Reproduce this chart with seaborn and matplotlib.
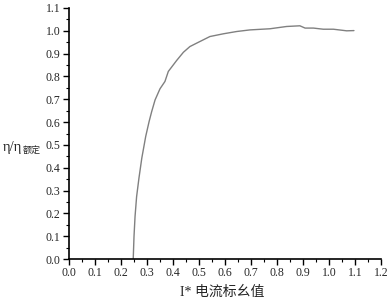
import matplotlib
matplotlib.use('Agg')
import matplotlib.pyplot as plt
from matplotlib.ticker import MultipleLocator
import seaborn as sns
import pandas as pd

# Curva de eficiencia relativa frente a corriente en p.u.
i_pu = [0.247, 0.250, 0.254, 0.260, 0.269, 0.280, 0.295, 0.308, 0.318, 0.331,
        0.350, 0.369, 0.382, 0.414, 0.440, 0.465, 0.491, 0.542, 0.594, 0.645,
        0.696, 0.773, 0.837, 0.888, 0.908, 0.940, 0.978, 1.017, 1.068, 1.096]
eta_rel = [0.0, 0.098, 0.186, 0.273, 0.354, 0.442, 0.537, 0.602, 0.646, 0.697,
           0.746, 0.778, 0.822, 0.870, 0.906, 0.931, 0.946, 0.975, 0.987, 0.997,
           1.004, 1.009, 1.019, 1.022, 1.012, 1.012, 1.007, 1.007, 1.000, 1.001]

xticks = [0.0, 0.1, 0.2, 0.3, 0.4, 0.5, 0.6, 0.7, 0.8, 0.9, 1.0, 1.1, 1.2]
yticks = [0.0, 0.1, 0.2, 0.3, 0.4, 0.5, 0.6, 0.7, 0.8, 0.9, 1.0, 1.1]

df = pd.DataFrame({"I": i_pu, "eta": eta_rel})

sns.set_style("ticks")
plt.rcParams['font.family'] = ['Liberation Serif', 'Noto Sans CJK SC']

fig = plt.figure(figsize=(3.92, 2.99), dpi=100)
ax = fig.add_axes([69 / 392, 40 / 299, 312 / 392, 251 / 299])

sns.lineplot(data=df, x="I", y="eta", ax=ax, sort=False, color="#808080", linewidth=1.0)

ax.set_xlim(0, 1.2)
ax.set_ylim(0, 1.1)
ax.set_xticks(xticks)
ax.set_yticks(yticks)
ax.set_xticklabels([f"{v:.1f}" for v in xticks], fontsize=8.5)
ax.set_yticklabels([f"{v:.1f}" for v in yticks], fontsize=8.5)
ax.xaxis.set_minor_locator(MultipleLocator(0.05))
ax.yaxis.set_minor_locator(MultipleLocator(0.05))
ax.tick_params(which='major', direction='out', length=4, width=1.0, color='black', pad=2)
ax.tick_params(which='minor', direction='out', length=2, width=0.8, color='black')
for s in ['left', 'bottom']:
    ax.spines[s].set_linewidth(1.2)
    ax.spines[s].set_color('black')
sns.despine(ax=ax)

ax.set_xlabel("")
ax.set_ylabel("")

# etiquetas de ejes
fig.text(222 / 392, 1 - 292 / 299, "I* 电流标幺值", ha='center', va='center', fontsize=10)
fig.text(3 / 392, 1 - 147 / 299, "η/η", ha='left', va='center', fontsize=10.5)
fig.text(23 / 392, 1 - 151 / 299, "额定", ha='left', va='center', fontsize=6.5)

fig.savefig("out.png", dpi=100)
